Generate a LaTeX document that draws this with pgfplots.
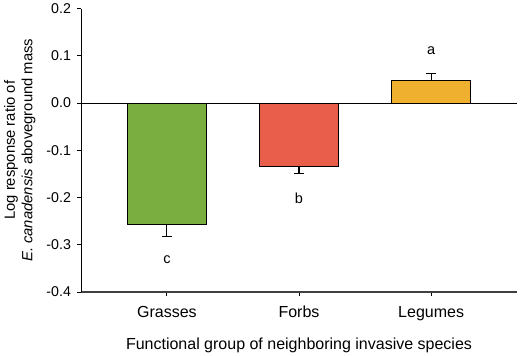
\documentclass[border=0pt]{standalone}
\usepackage{pgfplots}
\pgfplotsset{compat=1.18}
\usepackage{fontspec}
\setmainfont{Liberation Sans}
\definecolor{cgreen}{HTML}{7BAE41}
\definecolor{cred}{HTML}{E85E4B}
\definecolor{corange}{HTML}{F0B02F}
\begin{document}
\fontsize{14.5bp}{17bp}\selectfont
\begin{tikzpicture}
\begin{axis}[
  scale only axis,
  width=436bp, height=283.5bp,
  xmin=-0.65, xmax=2.65,
  ymin=-0.4, ymax=0.2,
  axis x line*=bottom, axis y line*=left,
  x axis line style={draw=black!75, line width=1.3pt, -},
  y axis line style={draw=black, line width=0.8pt, -},
  xtick={0,1,2},
  xticklabels={Grasses,Forbs,Legumes},
  ytick={-0.4,-0.3,-0.2,-0.1,0,0.1,0.2},
  yticklabel style={font=\fontsize{14.2bp}{17bp}\selectfont, xshift=-1bp, /pgf/number format/fixed, /pgf/number format/fixed zerofill, /pgf/number format/precision=1},
  /pgf/number format/assume math mode=true,
  tick align=outside,
  major tick length=4bp,
  tick style={black, line width=0.8pt},
  xticklabel style={font=\fontsize{16bp}{19bp}\selectfont, yshift=-5bp},
  xlabel style={font=\fontsize{16bp}{19bp}\selectfont, yshift=-8bp},
  ylabel style={font=\fontsize{14.8bp}{17.5bp}\selectfont, yshift=-1bp},
  xlabel={Functional group of neighboring invasive species},
  ylabel={\begin{tabular}{c}Log response ratio of\\\textit{E. canadensis} aboveground mass\end{tabular}},
  ybar, bar width=79bp,
  clip=false,
]
\addplot[black, line width=0.8pt, sharp plot, forget plot] coordinates {(-0.65,0) (2.65,0)};
\addplot[fill=cgreen, draw=black, line width=0.8pt, bar shift=0pt,
  error bars/.cd, y dir=minus, y explicit, error bar style={line width=1.2pt, black}, error mark options={rotate=90, mark size=5bp, line width=1.2pt, black}]
  coordinates {(0,-0.257) -= (0,0.026)};
\addplot[fill=cred, draw=black, line width=0.8pt, bar shift=0pt,
  error bars/.cd, y dir=minus, y explicit, error bar style={line width=1.2pt, black}, error mark options={rotate=90, mark size=5bp, line width=1.2pt, black}]
  coordinates {(1,-0.135) -= (1,0.015)};
\addplot[fill=corange, draw=black, line width=0.8pt, bar shift=0pt,
  error bars/.cd, y dir=plus, y explicit, error bar style={line width=1.2pt, black}, error mark options={rotate=90, mark size=5bp, line width=1.2pt, black}]
  coordinates {(2,0.048) += (2,0.014)};
\node[font=\fontsize{14.5bp}{17bp}\selectfont] at (axis cs:0,-0.332) {c};
\node[font=\fontsize{14.5bp}{17bp}\selectfont] at (axis cs:1,-0.202) {b};
\node[font=\fontsize{14.5bp}{17bp}\selectfont] at (axis cs:2,0.111) {a};
\end{axis}
\pgfresetboundingbox
\useasboundingbox (-81bp,-64bp) rectangle (439bp,292bp);
\end{tikzpicture}
\end{document}
